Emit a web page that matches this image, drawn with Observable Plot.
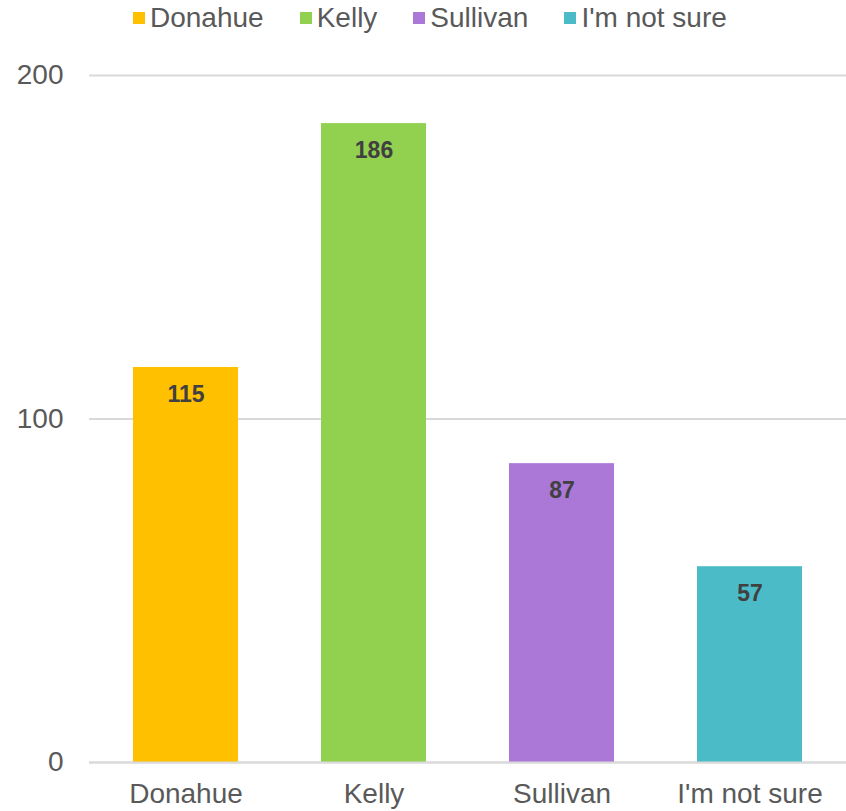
<!DOCTYPE html>
<html>
<head>
<meta charset="utf-8">
<script src="https://cdn.jsdelivr.net/npm/d3@7"></script>
<script src="https://cdn.jsdelivr.net/npm/@observablehq/plot@0.6"></script>
<style>
  html, body { margin: 0; padding: 0; background: #fff; }
  body { width: 846px; height: 811px; overflow: hidden; font-family: "Liberation Sans", Arial, sans-serif; }
  #legend { height: 36px; display: flex; align-items: center; padding-left: 133px; box-sizing: border-box; font-size: 28px; color: #595959; }
  .item { display: flex; align-items: center; margin-right: 36px; }
  .sw { width: 12px; height: 12px; margin-right: 5px; }
</style>
</head>
<body>
<div id="legend"></div>
<div id="chart"></div>
<script>
const categories = ["Donahue", "Kelly", "Sullivan", "I'm not sure"];
const values = [115, 186, 87, 57];
const colors = ["#FFC000", "#92D050", "#AB78D7", "#4BBBC7"];
const yTicks = [0, 100, 200];

const data = categories.map((c, i) => ({category: c, value: values[i]}));

const legend = document.getElementById("legend");
categories.forEach((c, i) => {
  const it = document.createElement("div");
  it.className = "item";
  const sw = document.createElement("span");
  sw.className = "sw";
  sw.style.background = colors[i];
  const t = document.createElement("span");
  t.textContent = c;
  it.appendChild(sw); it.appendChild(t);
  legend.appendChild(it);
});

const chart = Plot.plot({
  width: 846,
  height: 775,
  marginTop: 39,
  marginBottom: 49,
  marginLeft: 89,
  marginRight: 0,
  style: {fontFamily: "Liberation Sans, Arial, sans-serif", fontSize: "28px", color: "#595959", background: "#fff"},
  x: {domain: categories, paddingInner: 0.442, paddingOuter: 0.225, label: null},
  y: {domain: [0, 200], label: null},
  color: {domain: categories, range: colors},
  marks: [
    Plot.gridY(yTicks, {stroke: "#d9d9d9", strokeOpacity: 1, strokeWidth: 2}),
    Plot.barY(data, {x: "category", y: "value", fill: "category"}),
    Plot.ruleY([0], {stroke: "#d9d9d9", strokeWidth: 2}),
    Plot.text(data, {x: "category", y: "value", text: d => String(d.value), dy: 27, fill: "#404040", fontWeight: "bold", fontSize: 23}),
    Plot.axisY(yTicks, {tickSize: 0, tickPadding: 26, fill: "#595959", fontSize: 28}),
    Plot.axisX({tickSize: 0, tickPadding: 21, fill: "#595959", fontSize: 28})
  ]
});
document.getElementById("chart").appendChild(chart);
</script>
</body>
</html>
